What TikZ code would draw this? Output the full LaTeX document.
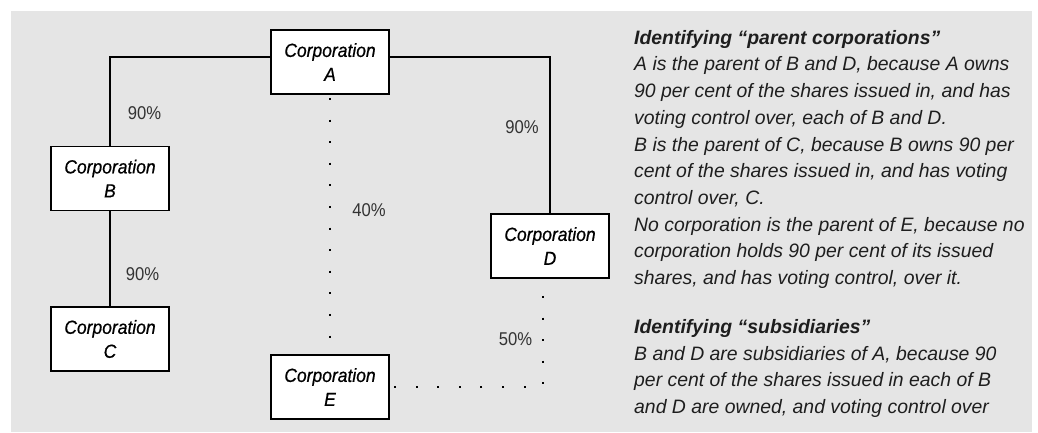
\documentclass[tikz,border=0pt]{standalone}
\usepackage{fontspec}
\setmainfont{Liberation Sans}
\newfontfamily\boxfont[FakeStretch=0.92,FakeBold=0.6]{Liberation Sans}
\newfontfamily\pctfont[FakeStretch=0.9]{Liberation Sans}
\usetikzlibrary{positioning}
\definecolor{panelgray}{RGB}{229,229,229}
\definecolor{pctgray}{RGB}{51,51,51}
\definecolor{notegray}{RGB}{30,30,30}
\tikzset{
    corp/.style={draw, fill=white, line width=1.8pt, minimum width=118pt, minimum height=64pt,
        inner sep=0pt, align=center, font=\boxfont\itshape\fontsize{19}{24}\selectfont},
    own/.style={line width=1.8pt},
    minor/.style={line width=2pt, dash pattern=on 2pt off 19.6pt},
    pct/.style={inner sep=0pt, text=pctgray, font=\pctfont\fontsize{18.5}{20}\selectfont},
    notes/.style={inner sep=0pt, align=left, text=notegray, font=\itshape\fontsize{19.4}{26.7}\selectfont}
}

\begin{document}
\begin{tikzpicture}[x=1pt,y=-1pt]
    \useasboundingbox (0,0) rectangle (1038,432);
    \fill[panelgray] (11,11) rectangle (1032,432);

    \node[corp] (corpA) at (330,62) {Corporation\\A};
    \node[corp] (corpB) at (110,178.5) {Corporation\\B};
    \node[corp] (corpC) at (110,339) {Corporation\\C};
    \node[corp] (corpD) at (550,246) {Corporation\\D};
    \node[corp] (corpE) at (330,387) {Corporation\\E};

    \draw[own] ([yshift=5pt]corpA.west) -| (corpB.north);
    \draw[own] ([yshift=5pt]corpA.east) -| (corpD.north);
    \draw[own] (corpB) -- (corpC);
    \draw[minor, dash phase=18.6pt] (corpA) -- (corpE);
    \draw[minor, dash phase=4.6pt] ([xshift=-7.5pt]corpD.south) |- (corpE.east);

    \node[pct] (pctAB) at (144.5,113) {90\%};
    \node[pct] (pctBC) at (142.5,274) {90\%};
    \node[pct] (pctAD) at (522,127) {90\%};
    \node[pct] (pctAE) at (369,210) {40\%};
    \node[pct] (pctDE) at (515.5,339) {50\%};

    \node[notes, anchor=north west] (notes) at (634,30) {\textbf{Identifying “parent corporations”}\\
        A is the parent of B and D, because A owns\\
        90 per cent of the shares issued in, and has\\
        voting control over, each of B and D.\\
        B is the parent of C, because B owns 90 per\\
        cent of the shares issued in, and has voting\\
        control over, C.\\
        No corporation is the parent of E, because no\\
        corporation holds 90 per cent of its issued\\
        shares, and has voting control, over it.\\[22.3pt]
        \textbf{Identifying “subsidiaries”}\\
        B and D are subsidiaries of A, because 90\\
        per cent of the shares issued in each of B\\
        and D are owned, and voting control over};
\end{tikzpicture}
\end{document}
